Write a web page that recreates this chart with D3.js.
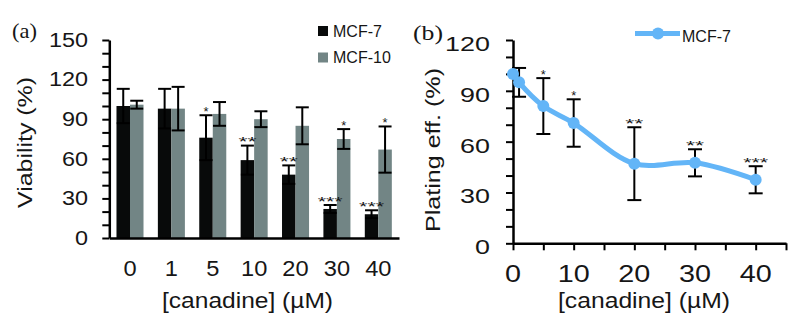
<!DOCTYPE html>
<meta charset="utf-8">
<script src="https://d3js.org/d3.v7.min.js"></script>
<style>
  body { margin: 0; background: #fff; }
  text { font-family: "Liberation Sans", Arial, sans-serif; fill: #161616; }
</style>
<div id="chart"></div>
<script>
// panel (a): cell viability
var doses = ["0", "1", "5", "10", "20", "30", "40"];
var series = ["MCF-7", "MCF-10"];
var mcf7Viab = [100, 98, 76, 59, 48, 22, 18];
var mcf7ViabErr = [13, 15, 17, 11, 7, 3, 3];
var mcf7ViabSig = ["", "", "*", "**", "**", "***", "***"];
var mcf10Viab = [101, 98, 94, 90, 85, 75, 67];
var mcf10ViabErr = [3, 16.5, 9, 6, 14, 7.5, 17.5];
var mcf10ViabSig = ["", "", "", "", "", "*", "*"];
var viabTicks = [0, 30, 60, 90, 120, 150];

// panel (b): plating efficiency
var conc = [0, 1, 5, 10, 20, 30, 40];
var plating = [100, 95, 81, 71, 47, 47.5, 37.5];
var platingErr = [0, 8.5, 16.5, 14, 21.5, 8, 8];
var platingSig = ["", "", "*", "*", "**", "**", "***"];
var platingTicks = [0, 30, 60, 90, 120];
var concTicks = [0, 10, 20, 30, 40];

var colors = {"MCF-7": "#080a0a", "MCF-10": "#728585"};
var blue = "#63b5f7";

var svg = d3.select("#chart").append("svg")
  .attr("width", 803)
  .attr("height", 329);

// stretch text along its run, the original fonts are wider than Arial
function widen(sel, k) {
  sel.each(function() {
    var n = this.getComputedTextLength();
    d3.select(this).attr("textLength", n * k).attr("lengthAdjust", "spacingAndGlyphs");
  });
}
function fit(sel, w) {
  sel.attr("textLength", w).attr("lengthAdjust", "spacingAndGlyphs");
}
var starWidth = {"*": 5, "**": 18, "***": 25};

function styleAxis(g) {
  g.select(".domain").attr("stroke", "#000").attr("stroke-width", 2.5);
  g.selectAll(".tick line").attr("stroke", "#000").attr("stroke-width", 2);
}

// ---------------- panel (a) ----------------
var x0 = d3.scaleBand()
  .domain(doses)
  .range([109.3, 399])
  .paddingInner(0.347)
  .paddingOuter(0.1735);
var x1 = d3.scaleBand()
  .domain(series)
  .range([0, x0.bandwidth()]);
var ya = d3.scaleLinear().domain([0, 150]).range([238, 40]);

var rows = doses.map(function(d, i) {
  return [
    {dose: d, s: "MCF-7", v: mcf7Viab[i], e: mcf7ViabErr[i], sig: mcf7ViabSig[i]},
    {dose: d, s: "MCF-10", v: mcf10Viab[i], e: mcf10ViabErr[i], sig: mcf10ViabSig[i]}
  ];
}).flat();

var gA = svg.append("g");

gA.selectAll("rect.bar")
  .data(rows)
  .enter()
  .append("rect")
    .attr("class", "bar")
    .attr("x", function(d) { return x0(d.dose) + x1(d.s); })
    .attr("width", x1.bandwidth())
    .attr("y", function(d) { return ya(d.v); })
    .attr("height", function(d) { return ya(0) - ya(d.v); })
    .attr("fill", function(d) { return colors[d.s]; });

var errA = gA.selectAll("g.err")
  .data(rows)
  .enter()
  .append("g")
    .attr("class", "err")
    .attr("transform", function(d) { return "translate(" + (x0(d.dose) + x1(d.s) + x1.bandwidth() / 2) + ",0)"; });
errA.append("line")
  .attr("y1", function(d) { return ya(d.v - d.e); })
  .attr("y2", function(d) { return ya(d.v + d.e); })
  .attr("stroke", "#000").attr("stroke-width", 2);
errA.append("line")
  .attr("x1", -6.5).attr("x2", 6.5)
  .attr("y1", function(d) { return ya(d.v + d.e); })
  .attr("y2", function(d) { return ya(d.v + d.e); })
  .attr("stroke", "#000").attr("stroke-width", 2);
errA.append("line")
  .attr("x1", -6.5).attr("x2", 6.5)
  .attr("y1", function(d) { return ya(d.v - d.e); })
  .attr("y2", function(d) { return ya(d.v - d.e); })
  .attr("stroke", "#000").attr("stroke-width", 2);
errA.filter(function(d) { return d.sig; })
  .append("text")
    .attr("text-anchor", "middle")
    .attr("y", function(d) { return ya(d.v + d.e) + 0.5; })
    .style("font-size", "12px")
    .text(function(d) { return d.sig; })
    .each(function(d) { fit(d3.select(this), starWidth[d.sig]); });

// axes
gA.append("g")
  .attr("transform", "translate(0,238)")
  .call(d3.axisBottom(x0).tickSize(0).tickSizeOuter(0).tickFormat(""))
  .call(styleAxis);
gA.append("g")
  .attr("transform", "translate(109.3,0)")
  .call(d3.axisLeft(ya).tickValues(d3.range(0, 151, 10)).tickSize(7).tickSizeOuter(0).tickFormat(""))
  .call(styleAxis);

gA.selectAll("text.ylab")
  .data(viabTicks)
  .enter()
  .append("text")
    .attr("class", "ylab")
    .attr("x", 88)
    .attr("y", function(d) { return ya(d); })
    .attr("dy", "0.35em")
    .attr("text-anchor", "end")
    .style("font-size", "19.5px")
    .text(function(d) { return d; })
    .call(widen, 1.2);

gA.selectAll("text.xlab")
  .data(doses)
  .enter()
  .append("text")
    .attr("class", "xlab")
    .attr("x", function(d) { return x0(d) + x0.bandwidth() / 2; })
    .attr("y", 276)
    .attr("text-anchor", "middle")
    .style("font-size", "21.5px")
    .text(function(d) { return d; })
    .call(widen, 1.1);

gA.append("text")
  .attr("x", 247.5).attr("y", 308)
  .attr("text-anchor", "middle")
  .style("font-size", "22px")
  .text("[canadine] (µM)")
  .call(fit, 171);

gA.append("text")
  .attr("transform", "translate(32,142.5) rotate(-90)")
  .attr("text-anchor", "middle")
  .style("font-size", "21px")
  .text("Viability (%)")
  .call(fit, 131);

gA.append("text")
  .attr("x", 12).attr("y", 37.5)
  .style("font-family", "'Liberation Serif', 'Times New Roman', serif")
  .style("font-size", "21px")
  .text("(a)")
  .call(fit, 25);

// legend (a)
var legA = gA.selectAll("g.leg")
  .data(series)
  .enter()
  .append("g")
    .attr("class", "leg")
    .attr("transform", function(d, i) { return "translate(318," + (26 + i * 26.5) + ")"; });
legA.append("rect")
  .attr("width", 10).attr("height", 10)
  .attr("fill", function(d) { return colors[d]; });
legA.append("text")
  .attr("x", 15).attr("y", 10.5)
  .style("font-size", "16px")
  .text(function(d) { return d; });

// ---------------- panel (b) ----------------
var xb = d3.scaleLinear().domain([0, 45]).range([513, 786]);
var yb = d3.scaleLinear().domain([0, 120]).range([243.3, 40]);

var pts = conc.map(function(c, i) {
  return {c: c, v: plating[i], e: platingErr[i], sig: platingSig[i]};
});

var gB = svg.append("g");

gB.append("g")
  .attr("transform", "translate(0,243.3)")
  .call(d3.axisBottom(xb).tickValues(d3.range(0, 46, 5)).tickSize(7).tickSizeOuter(0).tickFormat(""))
  .call(styleAxis);
gB.append("g")
  .attr("transform", "translate(513,0)")
  .call(d3.axisLeft(yb).tickValues(d3.range(0, 121, 10)).tickSize(7).tickSizeOuter(0).tickFormat(""))
  .call(styleAxis);

var errB = gB.selectAll("g.err")
  .data(pts.filter(function(d) { return d.e > 0; }))
  .enter()
  .append("g")
    .attr("class", "err")
    .attr("transform", function(d) { return "translate(" + xb(d.c) + ",0)"; });
errB.append("line")
  .attr("y1", function(d) { return yb(d.v - d.e); })
  .attr("y2", function(d) { return yb(d.v + d.e); })
  .attr("stroke", "#000").attr("stroke-width", 2);
errB.append("line")
  .attr("x1", -7).attr("x2", 7)
  .attr("y1", function(d) { return yb(d.v + d.e); })
  .attr("y2", function(d) { return yb(d.v + d.e); })
  .attr("stroke", "#000").attr("stroke-width", 2);
errB.append("line")
  .attr("x1", -7).attr("x2", 7)
  .attr("y1", function(d) { return yb(d.v - d.e); })
  .attr("y2", function(d) { return yb(d.v - d.e); })
  .attr("stroke", "#000").attr("stroke-width", 2);
errB.filter(function(d) { return d.sig; })
  .append("text")
    .attr("text-anchor", "middle")
    .attr("y", function(d) { return yb(d.v + d.e) + 1; })
    .style("font-size", "12px")
    .text(function(d) { return d.sig; })
    .each(function(d) { fit(d3.select(this), starWidth[d.sig]); });

var line = d3.line()
  .x(function(d) { return xb(d.c); })
  .y(function(d) { return yb(d.v); })
  .curve(d3.curveCatmullRom);

gB.append("path")
  .datum(pts)
  .attr("d", line)
  .attr("fill", "none")
  .attr("stroke", blue)
  .attr("stroke-width", 5)
  .attr("stroke-linecap", "round")
  .attr("stroke-linejoin", "round");

gB.selectAll("circle.pt")
  .data(pts)
  .enter()
  .append("circle")
    .attr("class", "pt")
    .attr("cx", function(d) { return xb(d.c); })
    .attr("cy", function(d) { return yb(d.v); })
    .attr("r", 6)
    .attr("fill", blue);

gB.selectAll("text.ylab")
  .data(platingTicks)
  .enter()
  .append("text")
    .attr("class", "ylab")
    .attr("x", 490)
    .attr("y", function(d) { return yb(d) + 3.5; })
    .attr("dy", "0.35em")
    .attr("text-anchor", "end")
    .style("font-size", "21px")
    .text(function(d) { return d; })
    .call(widen, 1.28);

gB.selectAll("text.xlab")
  .data(concTicks)
  .enter()
  .append("text")
    .attr("class", "xlab")
    .attr("x", function(d) { return xb(d); })
    .attr("y", 281.5)
    .attr("text-anchor", "middle")
    .style("font-size", "23px")
    .text(function(d) { return d; })
    .call(widen, 1.25);

gB.append("text")
  .attr("x", 644).attr("y", 308)
  .attr("text-anchor", "middle")
  .style("font-size", "22px")
  .text("[canadine] (µM)")
  .call(fit, 172);

gB.append("text")
  .attr("transform", "translate(440,150) rotate(-90)")
  .attr("text-anchor", "middle")
  .style("font-size", "21px")
  .text("Plating eff. (%)")
  .call(fit, 164);

gB.append("text")
  .attr("x", 413).attr("y", 39.5)
  .style("font-family", "'Liberation Serif', 'Times New Roman', serif")
  .style("font-size", "21px")
  .text("(b)")
  .call(fit, 30);

// legend (b)
gB.append("line")
  .attr("x1", 635).attr("x2", 680)
  .attr("y1", 33.5).attr("y2", 33.5)
  .attr("stroke", blue).attr("stroke-width", 5);
gB.append("circle")
  .attr("cx", 658).attr("cy", 33.5).attr("r", 6)
  .attr("fill", blue);
gB.append("text")
  .attr("x", 682).attr("y", 41.5)
  .style("font-size", "16px")
  .text("MCF-7");
</script>
